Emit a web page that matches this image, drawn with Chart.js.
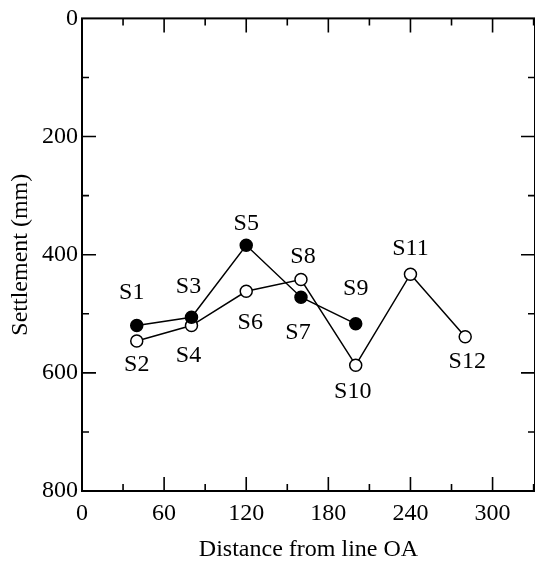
<!DOCTYPE html>
<html>
<head>
<meta charset="utf-8">
<script src="https://cdn.jsdelivr.net/npm/chart.js@4"></script>
<style>
  html, body { margin: 0; padding: 0; background: #fff; overflow: hidden; }
  #wrap { width: 535px; height: 565px; }
</style>
</head>
<body>
<div id="wrap"><canvas id="myChart" width="535" height="565"></canvas></div>
<script>
// distance from line OA
var filledX = [40, 80, 120, 160, 200];
var filledY = [520, 506, 384, 472, 517];
var filledNames = ["S1", "S3", "S5", "S7", "S9"];

var openX = [40, 80, 120, 160, 200, 240, 280];
var openY = [546, 520, 462, 442, 587, 433, 539];
var openNames = ["S2", "S4", "S6", "S8", "S10", "S11", "S12"];

var xTicks = [0, 60, 120, 180, 240, 300];
var yTicks = [0, 200, 400, 600, 800];

// where each name sits relative to its point [dx, dy]
var filledLabelOffset = [[-5, -33], [-3, -31], [0, -22], [-3, 35], [0, -35]];
var openLabelOffset = [[0, 24], [-3, 30], [4, 31], [2, -23], [-3, 27], [0, -25], [2, 25]];

var fontName = "'Liberation Serif', 'Times New Roman', serif";

var makePoints = function (xs, ys) {
  var pts = [];
  for (var i = 0; i < xs.length; i++) {
    pts.push({ x: xs[i], y: ys[i] });
  }
  return pts;
};

// ticks drawn inward on all 4 sides + the box
var framePlugin = {
  id: "frame",
  afterDraw: function (chart) {
    var ctx = chart.ctx;
    var a = chart.chartArea;
    var xs = chart.scales.x;
    var ys = chart.scales.y;
    ctx.save();
    ctx.strokeStyle = "#000";
    ctx.lineWidth = 1.6;
    ctx.beginPath();
    for (var v = 0; v <= 330; v += 30) {
      var px = xs.getPixelForValue(v);
      var len = (v % 60 === 0) ? 14 : 7;
      if (px <= a.left + 1 || px >= a.right - 1) continue;
      ctx.moveTo(px, a.bottom); ctx.lineTo(px, a.bottom - len);
      ctx.moveTo(px, a.top); ctx.lineTo(px, a.top + len);
    }
    for (var w = 100; w < 800; w += 100) {
      var py = ys.getPixelForValue(w);
      var len2 = (w % 200 === 0) ? 14 : 7;
      ctx.moveTo(a.left, py); ctx.lineTo(a.left + len2, py);
      ctx.moveTo(a.right, py); ctx.lineTo(a.right - len2, py);
    }
    ctx.stroke();
    ctx.lineWidth = 2;
    ctx.strokeRect(a.left, a.top, a.right - a.left, a.bottom - a.top);
    ctx.restore();
  }
};

// S1..S12 names next to the points
var namePlugin = {
  id: "names",
  afterDatasetsDraw: function (chart) {
    var ctx = chart.ctx;
    ctx.save();
    ctx.font = "24px " + fontName;
    ctx.fillStyle = "#000";
    ctx.textAlign = "center";
    ctx.textBaseline = "middle";
    var sets = [[filledNames, filledLabelOffset], [openNames, openLabelOffset]];
    for (var d = 0; d < sets.length; d++) {
      var meta = chart.getDatasetMeta(d);
      for (var i = 0; i < meta.data.length; i++) {
        var pt = meta.data[i];
        var off = sets[d][1][i];
        ctx.fillText(sets[d][0][i], pt.x + off[0], pt.y + off[1]);
      }
    }
    ctx.restore();
  }
};

var ctx = document.getElementById("myChart");
var myChart = new Chart(ctx, {
  type: "scatter",
  data: {
    datasets: [
      {
        data: makePoints(filledX, filledY),
        showLine: true,
        borderColor: "#000",
        borderWidth: 1.5,
        pointBackgroundColor: "#000",
        pointBorderColor: "#000",
        pointBorderWidth: 1.5,
        pointRadius: 6
      },
      {
        data: makePoints(openX, openY),
        showLine: true,
        borderColor: "#000",
        borderWidth: 1.5,
        pointBackgroundColor: "#fff",
        pointBorderColor: "#000",
        pointBorderWidth: 1.5,
        pointRadius: 6
      }
    ]
  },
  options: {
    responsive: false,
    animation: false,
    events: [],
    // right edge of the frame runs just past the picture
    layout: { autoPadding: false, padding: { top: 15, right: -2, left: 0, bottom: 0 } },
    plugins: {
      legend: { display: false },
      tooltip: { enabled: false }
    },
    scales: {
      x: {
        type: "linear",
        min: 0,
        max: 331,
        grid: { display: false, drawTicks: false },
        border: { display: false },
        afterBuildTicks: function (s) {
          s.ticks = xTicks.map(function (v) { return { value: v }; });
        },
        afterFit: function (s) {
          s.height = 74;
          s.paddingRight = 0;
        },
        ticks: {
          color: "#000",
          padding: 8,
          maxRotation: 0,
          font: { family: fontName, size: 24 }
        },
        title: {
          display: true,
          text: "Distance from line OA",
          color: "#000",
          padding: { top: 0, bottom: 1 },
          font: { family: fontName, size: 24 }
        }
      },
      y: {
        type: "linear",
        min: 0,
        max: 800,
        reverse: true,
        grid: { display: false, drawTicks: false },
        border: { display: false },
        afterBuildTicks: function (s) {
          s.ticks = yTicks.map(function (v) { return { value: v }; });
        },
        afterFit: function (s) { s.width = 82; },
        ticks: {
          color: "#000",
          padding: 4,
          font: { family: fontName, size: 24 }
        },
        title: {
          display: true,
          text: "Settlement (mm)",
          color: "#000",
          padding: { top: 6, bottom: 0 },
          font: { family: fontName, size: 24 }
        }
      }
    }
  },
  plugins: [framePlugin, namePlugin]
});
</script>
</body>
</html>
